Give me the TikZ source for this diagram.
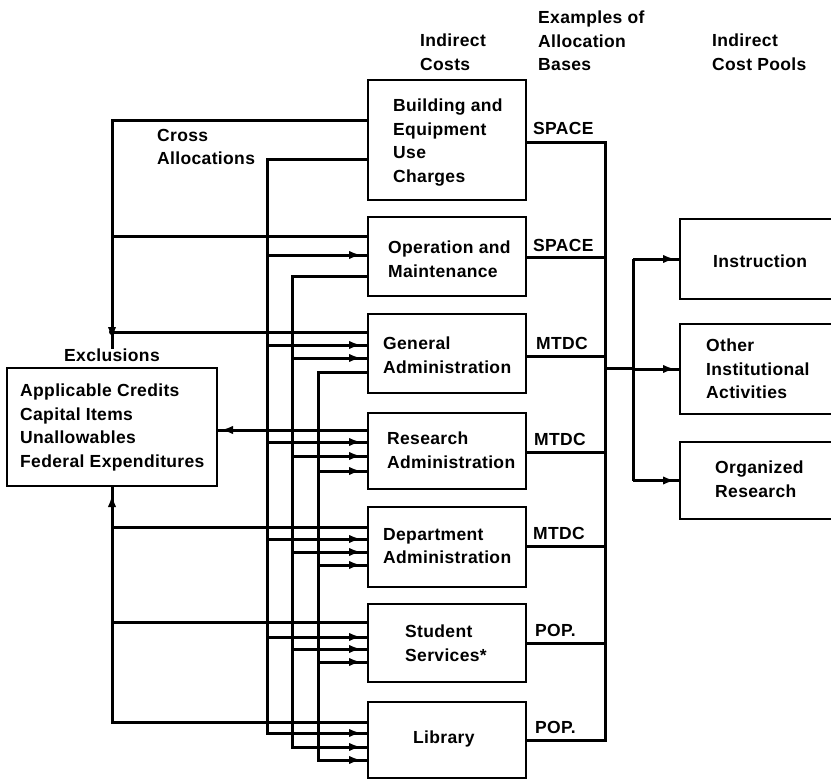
\documentclass[tikz,border=0pt]{standalone}
\usepackage{fontspec}
\setmainfont{Liberation Sans}[LetterSpace=2]
\usetikzlibrary{arrows.meta,decorations.markings}
\tikzset{
  lbl/.style={font=\fontsize{17.5}{23.5}\selectfont\bfseries, align=left, inner sep=0pt, anchor=north west},
  box/.style={draw, line width=2.6pt, inner sep=0pt, outer sep=0pt, anchor=north west, minimum width=158pt},
  ln/.style={line width=3pt},
  arr/.style={ln, postaction={decorate}, decoration={markings, mark=at position -#1 with {\arrow{Latex[length=12pt,width=8.5pt]}}}},
  arr/.default=7pt
}
\begin{document}
\begin{tikzpicture}[x=1pt,y=-1pt]
\useasboundingbox (0,0) rectangle (831,779);
\fill[white] (0,0) rectangle (831,779);

% bus positions
\coordinate (xL) at (112,0);
\coordinate (xA) at (267,0);
\coordinate (xB) at (292,0);
\coordinate (xC) at (318,0);
\coordinate (xR) at (605,0);
\coordinate (xS) at (633,0);

% indirect cost boxes
\node[box, minimum height=120pt] (bld) at (368,80) {};
\node[box, minimum height=79pt] (opm) at (368,217) {};
\node[box, minimum height=79pt] (gen) at (368,314) {};
\node[box, minimum height=76pt] (res) at (368,413) {};
\node[box, minimum height=80pt] (dep) at (368,507) {};
\node[box, minimum height=78pt] (stu) at (368,604) {};
\node[box, minimum height=76pt] (lib) at (368,702) {};
% cost pools
\node[box, minimum width=156pt, minimum height=80pt] (ins) at (680,219) {};
\node[box, minimum width=156pt, minimum height=90pt] (oth) at (680,324) {};
\node[box, minimum width=156pt, minimum height=77pt] (org) at (680,442) {};
% exclusions
\node[box, minimum width=210pt, minimum height=118pt] (exb) at (7,368) {};

% texts
\node[lbl] (hIC) at (420,34) {Indirect\\Costs};
\node[lbl] (hEx) at (538,11) {Examples of\\Allocation\\Bases};
\node[lbl] (hCP) at (712,34) {Indirect\\Cost Pools};
\node[lbl] (cross) at (157,129) {Cross\\Allocations};
\node[lbl, anchor=north] (exl) at (112,349) {Exclusions};
\node[lbl] (tEx) at (20,384) {Applicable Credits\\Capital Items\\Unallowables\\Federal Expenditures};
\node[lbl] (tB) at (393,99) {Building and\\Equipment\\Use\\Charges};
\node[lbl] (tO) at (388,241) {Operation and\\Maintenance};
\node[lbl] (tG) at (383,337) {General\\Administration};
\node[lbl] (tR) at (387,432) {Research\\Administration};
\node[lbl] (tD) at (383,528) {Department\\Administration};
\node[lbl] (tS) at (405,625) {Student\\Services*};
\node[lbl] (tL) at (413,731) {Library};
\node[lbl] (tI) at (713,255) {Instruction};
\node[lbl] (tOI) at (706,339) {Other\\Institutional\\Activities};
\node[lbl] (tOR) at (715,461) {Organized\\Research};
\node[lbl] (s1) at (533,122) {SPACE};
\node[lbl] (s2) at (533,239) {SPACE};
\node[lbl] (m1) at (536,337) {MTDC};
\node[lbl] (m2) at (534,433) {MTDC};
\node[lbl] (m3) at (533,527) {MTDC};
\node[lbl] (p1) at (535,624) {POP.};
\node[lbl] (p2) at (535,721) {POP.};

% allocation bases to pools
\draw[ln] (bld.east |- 0,142) -| (xR |- 0,740) -- (lib.east |- 0,740);
\draw[ln] (opm.east |- 0,257) -- (xR |- 0,257);
\draw[ln] (gen.east |- 0,356) -- (xR |- 0,356);
\draw[ln] (res.east |- 0,452) -- (xR |- 0,452);
\draw[ln] (dep.east |- 0,546) -- (xR |- 0,546);
\draw[ln] (stu.east |- 0,643) -- (xR |- 0,643);
\draw[ln] (xR |- 0,368) -- (xS |- 0,368);
\draw[ln] (xS |- ins.west) -- (xS |- org.west);
\draw[arr=5pt] (xS |- ins.west) -- (ins.west);
\draw[arr=5pt] (xS |- oth.west) -- (oth.west);
\draw[arr=5pt] (xS |- org.west) -- (org.west);

% exclusions
\draw[arr=10pt] (bld.west |- 0,120) -| (exl.north);
\draw[ln] (opm.west |- 0,236) -- (xL |- 0,236);
\draw[ln] (gen.west |- 0,332) -- (xL |- 0,332);
\fill (xL |- 0,332) circle (3pt);
\draw[arr=4pt] (res.west |- 0,430) -- (exb.east |- 0,430);
\draw[arr=9pt] (lib.west |- 0,722) -| (exb.south);
\draw[ln] (dep.west |- 0,527) -- (xL |- 0,527);
\draw[ln] (stu.west |- 0,622) -- (xL |- 0,622);

% cross allocations: bus A from Building
\draw[arr] (bld.west |- 0,159) -| (xA |- 0,733) -- (lib.west |- 0,733);
\draw[arr] (xA |- 0,255) -- (opm.west |- 0,255);
\draw[arr] (xA |- 0,345) -- (gen.west |- 0,345);
\draw[arr] (xA |- 0,442) -- (res.west |- 0,442);
\draw[arr] (xA |- 0,539) -- (dep.west |- 0,539);
\draw[arr] (xA |- 0,637) -- (stu.west |- 0,637);
% bus B from Operation and Maintenance
\draw[arr] (opm.west |- 0,276) -| (xB |- 0,747) -- (lib.west |- 0,747);
\draw[arr] (xB |- 0,358) -- (gen.west |- 0,358);
\draw[arr] (xB |- 0,456) -- (res.west |- 0,456);
\draw[arr] (xB |- 0,552) -- (dep.west |- 0,552);
\draw[arr] (xB |- 0,649) -- (stu.west |- 0,649);
% bus C from General Administration
\draw[arr] (gen.west |- 0,372) -| (xC |- 0,760) -- (lib.west |- 0,760);
\draw[arr] (xC |- 0,471) -- (res.west |- 0,471);
\draw[arr] (xC |- 0,565) -- (dep.west |- 0,565);
\draw[arr] (xC |- 0,662) -- (stu.west |- 0,662);
\end{tikzpicture}
\end{document}
